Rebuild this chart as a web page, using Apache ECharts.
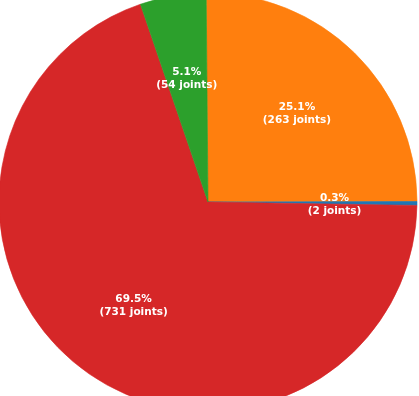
<!DOCTYPE html>
<html><head><meta charset="utf-8">
<script src="https://cdn.jsdelivr.net/npm/echarts@6/dist/echarts.min.js"></script>
<style>html,body{margin:0;padding:0;background:#fff}#c{width:419px;height:396px}</style>
</head><body><div id="c"></div>
<script>
// Slices in clockwise order starting at 12 o'clock
const categories = ['Orange', 'Blue', 'Red', 'Green'];
const percents = [25.1, 0.3, 69.5, 5.1];
const joints = [263, 2, 731, 54];
const colors = ['#ff7f0e', '#1f77b4', '#d62728', '#2ca02c'];

const R = 209;
const C = [208, 202];
const data = categories.map((c, i) => ({
  name: c, value: percents[i], joints: joints[i],
  itemStyle: { color: colors[i], borderColor: colors[i], borderWidth: 0.6 }
}));

const chart = echarts.init(document.getElementById('c'), null, { renderer: 'canvas' });
chart.setOption({
  animation: false,
  series: [
    {
      type: 'pie', center: C, radius: [0, R], startAngle: 90.5, clockwise: true,
      minAngle: 0, avoidLabelOverlap: false, silent: true,
      label: { show: false }, labelLine: { show: false },
      data: data
    },
    {
      type: 'pie', center: [208, 203.5], radius: [38, R], startAngle: 90.5, clockwise: true,
      minAngle: 0, avoidLabelOverlap: false, silent: true,
      itemStyle: { color: 'rgba(0,0,0,0)', borderWidth: 0 },
      labelLine: { show: false },
      label: {
        show: true, position: 'inside', color: '#fff',
        fontFamily: 'DejaVu Sans', fontWeight: 'bold', fontSize: 10.5, lineHeight: 13,
        formatter: p => p.value.toFixed(1) + '%\n(' + p.data.joints + ' joints)'
      },
      data: data.map(d => ({ name: d.name, value: d.value, joints: d.joints }))
    }
  ]
});
</script></body></html>
